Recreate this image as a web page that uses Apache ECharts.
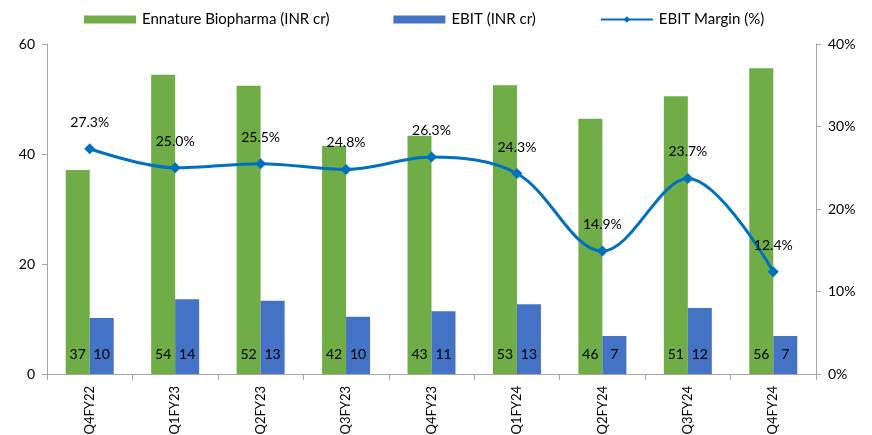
<!DOCTYPE html>
<html><head><meta charset="utf-8">
<script src="https://cdn.jsdelivr.net/npm/echarts@6/dist/echarts.min.js"></script>
<style>html,body{margin:0;padding:0;background:#fff}#c{width:872px;height:435px}</style>
</head><body><div id="c"></div>
<script>
const categories = ['Q4FY22','Q1FY23','Q2FY23','Q3FY23','Q4FY23','Q1FY24','Q2FY24','Q3FY24','Q4FY24'];
const revenue = [37.1, 54.4, 52.4, 41.5, 43.3, 52.5, 46.4, 50.5, 55.6];
const ebit = [10.2, 13.6, 13.3, 10.4, 11.4, 12.7, 6.9, 12.0, 6.9];
const margin = [27.3, 25.0, 25.5, 24.8, 26.3, 24.3, 14.9, 23.7, 12.4];
const leftTicks = [0, 20, 40, 60];
const rightTicks = [0, 10, 20, 30, 40];

const font = 'Lato, "Open Sans", sans-serif';
const chart = echarts.init(document.getElementById('c'));
chart.setOption({
  animation: false,
  textStyle: {fontFamily: font},
  legend: {
    top: 7, left: 79, itemGap: 64, itemWidth: 52, itemHeight: 8,
    textStyle: {fontSize: 15, color: '#000', fontFamily: font, padding: [0, 0, 0, 1]},
    data: [
      {name: 'Ennature Biopharma (INR cr)', icon: 'rect'},
      {name: 'EBIT (INR cr)', icon: 'rect'},
      {name: 'EBIT Margin (%)'}
    ]
  },
  grid: {left: 47, right: 56, top: 44, bottom: 61, containLabel: false, outerBoundsMode: 'none'},
  xAxis: {
    type: 'category', data: categories,
    axisLine: {lineStyle: {color: '#a6a6a6'}},
    axisTick: {show: true, interval: 0, length: 6, lineStyle: {color: '#a6a6a6'}},
    axisLabel: {rotate: 90, fontSize: 13, color: '#000', margin: 12, fontFamily: font}
  },
  yAxis: [
    {type: 'value', min: leftTicks[0], max: leftTicks[leftTicks.length-1], interval: 20,
     axisLine: {show: true, lineStyle: {color: '#a6a6a6'}},
     axisTick: {show: true, length: 5, lineStyle: {color: '#a6a6a6'}},
     splitLine: {show: false},
     axisLabel: {fontSize: 14, color: '#000', margin: 12, fontFamily: font}},
    {type: 'value', min: rightTicks[0], max: rightTicks[rightTicks.length-1], interval: 10,
     axisLine: {show: true, lineStyle: {color: '#a6a6a6'}},
     axisTick: {show: true, length: 5, lineStyle: {color: '#a6a6a6'}},
     splitLine: {show: false},
     axisLabel: {fontSize: 14, color: '#000', margin: 12, formatter: '{value}%', fontFamily: font}}
  ],
  series: [
    {name: 'Ennature Biopharma (INR cr)', type: 'bar', data: revenue, barWidth: 24, barGap: '0%',
     itemStyle: {color: '#70ad47'},
     label: {show: true, position: 'insideBottom', distance: 13, fontSize: 14, color: '#000',
             formatter: p => Math.round(p.value)}},
    {name: 'EBIT (INR cr)', type: 'bar', data: ebit, barWidth: 24,
     itemStyle: {color: '#4472c4'},
     label: {show: true, position: 'insideBottom', distance: 13, fontSize: 14, color: '#000',
             formatter: p => Math.round(p.value)}},
    {name: 'EBIT Margin (%)', type: 'line', yAxisIndex: 1, data: margin, smooth: 0.35,
     symbol: 'diamond', symbolSize: 11,
     lineStyle: {color: '#0070c0', width: 3}, itemStyle: {color: '#0070c0'},
     label: {show: true, position: 'top', distance: 14, fontSize: 14, color: '#000',
             formatter: p => p.value.toFixed(1) + '%'},
     z: 5}
  ]
});
</script></body></html>
